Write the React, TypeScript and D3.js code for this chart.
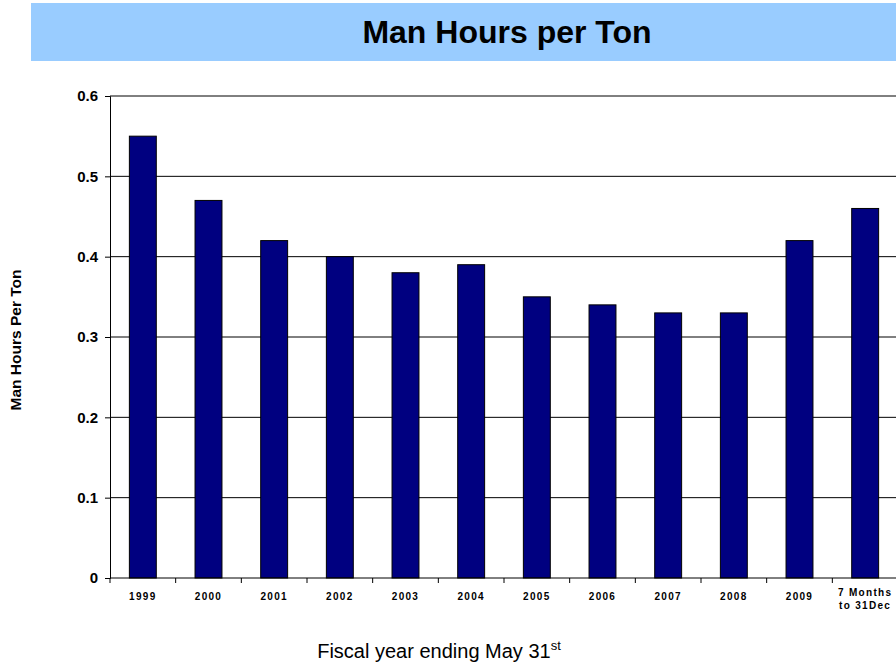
import React, { useEffect, useRef } from 'react';
import * as d3 from 'd3';

// chart data
const categories = ['1999', '2000', '2001', '2002', '2003', '2004', '2005', '2006', '2007', '2008', '2009', '7 Months|to 31Dec'];
const manHours = [0.55, 0.47, 0.42, 0.40, 0.38, 0.39, 0.35, 0.34, 0.33, 0.33, 0.42, 0.46];
const yTicks = [0, 0.1, 0.2, 0.3, 0.4, 0.5, 0.6];

const App = () => {
  const chartRef = useRef<SVGSVGElement>(null);

  useEffect(() => {
    const svg = d3.select(chartRef.current);
    svg.selectAll('*').remove();

    const font = '"Liberation Sans", Arial, sans-serif';
    const left = 110, right = 898, top = 96, bottom = 578;

    // title banner
    svg.append('rect')
      .attr('x', 31).attr('y', 3)
      .attr('width', 865).attr('height', 58)
      .attr('fill', '#99ccff');
    svg.append('text')
      .attr('x', 507).attr('y', 43)
      .attr('text-anchor', 'middle')
      .style('font-family', font)
      .style('font-weight', 'bold')
      .style('font-size', '32px')
      .text('Man Hours per Ton');

    const x = d3.scaleBand()
      .domain(categories)
      .range([left, right])
      .paddingInner(0.59)
      .paddingOuter(0.295);

    const y = d3.scaleLinear()
      .domain([0, 0.6])
      .range([bottom, top]);

    // gridlines
    svg.append('g')
      .selectAll('line')
      .data(yTicks.filter(d => d > 0))
      .enter()
      .append('line')
        .attr('x1', left).attr('x2', right)
        .attr('y1', d => y(d)).attr('y2', d => y(d))
        .attr('stroke', '#000')
        .attr('stroke-width', 1);

    // bars
    svg.append('g')
      .selectAll('rect')
      .data(manHours)
      .enter()
      .append('rect')
        .attr('x', (d, i) => x(categories[i])!)
        .attr('y', d => y(d))
        .attr('width', x.bandwidth())
        .attr('height', d => bottom - y(d))
        .attr('fill', '#000080')
        .attr('stroke', '#000')
        .attr('stroke-width', 1);

    // y axis
    const yAxis = svg.append('g')
      .attr('transform', `translate(${left},0)`)
      .call(d3.axisLeft(y).tickValues(yTicks).tickFormat(d => d === 0 ? '0' : d3.format('.1f')(d as number)).tickSize(5).tickPadding(7));
    yAxis.select('.domain').attr('stroke', '#000');
    yAxis.selectAll('text')
      .style('font-family', font)
      .style('font-weight', 'bold')
      .style('font-size', '15px')
      .attr('fill', '#000');

    // x axis line and ticks between categories
    svg.append('line')
      .attr('x1', left).attr('x2', right)
      .attr('y1', bottom).attr('y2', bottom)
      .attr('stroke', '#000');
    const step = x.step();
    svg.append('g')
      .selectAll('line')
      .data(d3.range(categories.length + 1))
      .enter()
      .append('line')
        .attr('x1', i => left + i * step).attr('x2', i => left + i * step)
        .attr('y1', bottom).attr('y2', bottom + 5)
        .attr('stroke', '#000');

    // x labels
    const xl = svg.append('g')
      .selectAll('text')
      .data(categories)
      .enter()
      .append('text')
        .attr('x', d => x(d)! + x.bandwidth() / 2)
        .attr('y', 600)
        .attr('text-anchor', 'middle')
        .style('font-family', font)
        .style('font-weight', 'bold')
        .style('font-size', '10px')
        .style('letter-spacing', '1.3px');
    xl.each(function (d) {
      const parts = d.split('|');
      const t = d3.select(this);
      parts.forEach((p, k) => {
        t.append('tspan')
          .attr('x', x(d)! + x.bandwidth() / 2)
          .attr('dy', k === 0 ? (parts.length > 1 ? -4 : 0) : 13)
          .text(p);
      });
    });

    // y axis title
    svg.append('text')
      .attr('transform', 'translate(21,340) rotate(-90)')
      .attr('text-anchor', 'middle')
      .style('font-family', font)
      .style('font-weight', 'bold')
      .style('font-size', '15.5px')
      .text('Man Hours Per Ton');

    // x axis title
    const xt = svg.append('text')
      .attr('x', 439).attr('y', 658)
      .attr('text-anchor', 'middle')
      .style('font-family', font)
      .style('font-size', '20px');
    xt.append('tspan').text('Fiscal year ending May 31');
    xt.append('tspan').attr('dy', -8).style('font-size', '13px').text('st');
  }, []);

  return (
    <svg
      ref={chartRef}
      width={896}
      height={665}
      style={{ position: 'absolute', left: 0, top: 0, background: '#fff' }}
    />
  );
};

export default App;
